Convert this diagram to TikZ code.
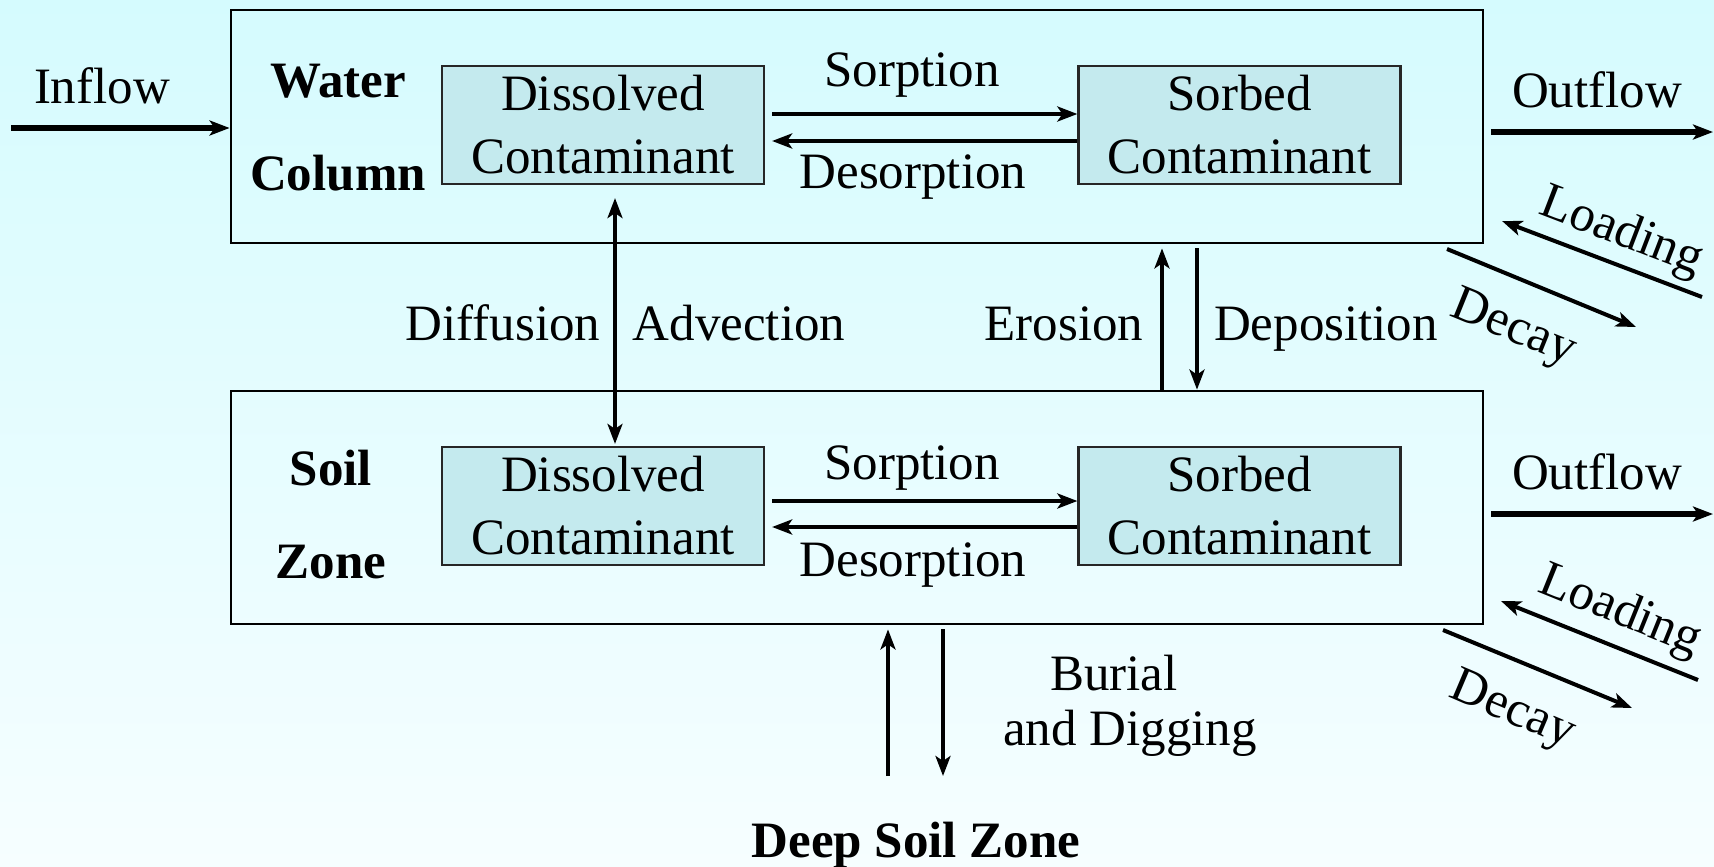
\documentclass[tikz,border=0pt]{standalone}
\usepackage{fontspec}
\setmainfont{Liberation Serif}
\usetikzlibrary{arrows.meta,calc}
\definecolor{bgtop}{RGB}{213,251,254}
\definecolor{bgbot}{RGB}{246,254,255}
\definecolor{boxfill}{RGB}{196,234,238}
\tikzset{hd/.tip={Stealth[length=10pt,width=7.5pt,inset=2.5pt]}}
\begin{document}
\begin{tikzpicture}[x=0.5pt,y=-0.5pt,
  every node/.style={font=\fontsize{25.5}{31.5}\selectfont, inner sep=0pt},
  zone/.style={draw, line width=1.4pt, minimum width=626pt, minimum height=116.5pt},
  comp/.style={draw=black!85, fill=boxfill, line width=1.1pt, minimum width=161pt, minimum height=59pt, align=center},
  lbl/.style={anchor=base},
  blbl/.style={anchor=base, font=\fontsize{25.5}{31.5}\selectfont\bfseries},
  arr/.style={-hd, line width=1.8pt},
  thick arr/.style={-hd, line width=2.6pt},
  twoway/.style={hd-hd, line width=1.7pt},
]
\useasboundingbox (0,0) rectangle (1714,867);
\fill[top color=bgtop, bottom color=bgbot] (0,0) rectangle (1714,867);

% zones
\node[zone] (wc) at (857,126.5) {};
\node[zone] (sz) at (857,507.5) {};

% compartments
\node[comp] (d1) at (603,125) {Dissolved\\Contaminant};
\node[comp] (s1) at (1239.5,125) {Sorbed\\Contaminant};
\node[comp] (d2) at (603,506) {Dissolved\\Contaminant};
\node[comp] (s2) at (1239.5,506) {Sorbed\\Contaminant};

% zone labels
\node[blbl] (wt) at (338,97) {Water};
\node[blbl] (cl) at (338,190) {Column};
\node[blbl] (so) at (331,485) {Soil};
\node[blbl] (zo) at (331,578) {Zone};
\node[blbl] (deep) at (916,857) {Deep Soil Zone};

% process labels
\node[lbl] (inl) at (102,103) {Inflow};
\node[lbl] (sp1) at (912,86) {Sorption};
\node[lbl] (de1) at (913,188) {Desorption};
\node[lbl] (sp2) at (912,479) {Sorption};
\node[lbl] (de2) at (913,576) {Desorption};
\node[lbl] (of1) at (1597,107) {Outflow};
\node[lbl] (of2) at (1597,489) {Outflow};
\node[lbl] (dif) at (503,340) {Diffusion};
\node[lbl] (adv) at (739,340) {Advection};
\node[lbl] (ero) at (1064,340) {Erosion};
\node[lbl] (dep) at (1326,340) {Deposition};
\node[lbl] (bur) at (1114,690) {Burial};
\node[lbl] (dig) at (1130,745) {and Digging};
\node[rotate=-21] (ld1) at (1621,233) {Loading};
\node[rotate=-22] (dc1) at (1513,330) {Decay};
\node[rotate=-22] (ld2) at (1620,612) {Loading};
\node[rotate=-23] (dc2) at (1512,712) {Decay};

% free ends
\coordinate (inS) at (11,128);
\coordinate (o1E) at (1713,132);
\coordinate (o2E) at (1713,514);
\coordinate (l1s) at (1702,297);
\coordinate (l1e) at (1502,221);
\coordinate (k1s) at (1447,249);
\coordinate (k1e) at (1636,327);
\coordinate (l2s) at (1698,680);
\coordinate (l2e) at (1501,601);
\coordinate (k2s) at (1443,630);
\coordinate (k2e) at (1632,708);
\coordinate (bu) at (888,776);
\coordinate (bd) at (943,776);

% inflow / outflow
\draw[thick arr] (inS) -- (inS -| wc.west);
\draw[thick arr, shorten <=3.5pt] (o1E -| wc.east) -- (o1E);
\draw[thick arr, shorten <=3.5pt] (o2E -| sz.east) -- (o2E);

% loading / decay
\draw[arr, line width=2pt] (l1s) -- (l1e);
\draw[arr, line width=2pt] (k1s) -- (k1e);
\draw[arr, line width=2pt] (l2s) -- (l2e);
\draw[arr, line width=2pt] (k2s) -- (k2e);

% sorption / desorption
\draw[arr, line width=2.2pt, shorten <=3.5pt] ([yshift=5.5pt]d1.east) -- ([yshift=5.5pt]s1.west);
\draw[arr, line width=2.2pt, shorten >=3.5pt] ([yshift=-8pt]s1.west) -- ([yshift=-8pt]d1.east);
\draw[arr, line width=2.2pt, shorten <=3.5pt] ([yshift=2.5pt]d2.east) -- ([yshift=2.5pt]s2.west);
\draw[arr, line width=2.2pt, shorten >=3.5pt] ([yshift=-10.5pt]s2.west) -- ([yshift=-10.5pt]d2.east);

% vertical exchanges
\draw[twoway, shorten <=6.5pt, shorten >=1pt] ([xshift=6pt]d1.south) -- ([xshift=6pt]d2.north);
\draw[arr, shorten >=2pt] ([xshift=152.5pt]sz.north) -- ([xshift=152.5pt]wc.south);
\draw[arr, shorten <=2pt] ([xshift=170pt]wc.south) -- ([xshift=170pt]sz.north);
\draw[arr, shorten >=2pt] (bu) -- (bu |- sz.south);
\draw[arr, shorten <=2pt] (bd |- sz.south) -- (bd);
\end{tikzpicture}
\end{document}
